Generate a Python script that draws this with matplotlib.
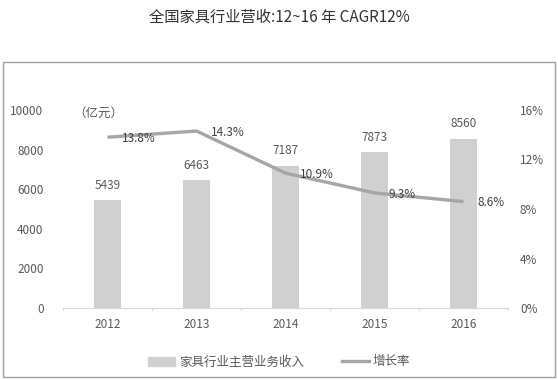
import matplotlib
matplotlib.use("Agg")
import matplotlib.pyplot as plt
from matplotlib.patches import Rectangle
from matplotlib.lines import Line2D

plt.rcParams['font.family'] = ['Noto Sans CJK SC', 'DejaVu Sans']

years = ["2012", "2013", "2014", "2015", "2016"]
revenue = [5439, 6463, 7187, 7873, 8560]
growth = [13.8, 14.3, 10.9, 9.3, 8.6]
growth_labels = ["13.8%", "14.3%", "10.9%", "9.3%", "8.6%"]
left_ticks = [0, 2000, 4000, 6000, 8000, 10000]
right_ticks = [0, 4, 8, 12, 16]

bar_color = "#d0d0d0"
line_color = "#a6a6a6"
text_color = "#595959"

fig = plt.figure(figsize=(5.58, 3.80), dpi=100)
fig.patches.append(Rectangle((3/558, 3/380), 552/558, 315/380, transform=fig.transFigure,
                             fill=False, edgecolor="#a0a0a0", linewidth=1))
fig.text(0.5, 1 - 17/380, "全国家具行业营收:12~16 年 CAGR12%", ha="center", va="center",
         fontsize=11, color="#333333")

ax = fig.add_axes([63/558, 1 - 308/380, (508 - 63)/558, (308 - 110)/380])
x = list(range(len(years)))
ax.bar(x, revenue, width=0.3, color=bar_color, zorder=1)
ax.set_xlim(-0.5, 4.5)
ax.set_ylim(0, 10000)
ax.set_yticks(left_ticks)
ax.set_yticklabels([str(t) for t in left_ticks])
ax.set_xticks(x)
ax.set_xticklabels(years)
for s in ["top", "right", "left"]:
    ax.spines[s].set_visible(False)
ax.spines["bottom"].set_color("#d9d9d9")
ax.tick_params(axis="y", length=0, labelsize=8.5, labelcolor=text_color, pad=14)
ax.tick_params(axis="x", length=0, labelsize=8.5, labelcolor=text_color, pad=7)
for b in [-0.5, 0.5, 1.5, 2.5, 3.5, 4.5]:
    ax.plot([b, b], [0, -120], color="#d9d9d9", linewidth=0.8, clip_on=False)
for xi, v in zip(x, revenue):
    ax.text(xi, v + 420, str(v), ha="center", va="bottom", fontsize=8.5, color=text_color)
ax.text(0.022, 0.985, "（亿元）", transform=ax.transAxes, ha="left", va="center",
        fontsize=9, color=text_color)

ax2 = ax.twinx()
ax2.plot(x, growth, color=line_color, linewidth=2.4, solid_capstyle="butt", zorder=3)
ax2.set_ylim(0, 16)
ax2.set_yticks(right_ticks)
ax2.set_yticklabels([f"{t}%" for t in right_ticks])
for s in ["top", "right", "left", "bottom"]:
    ax2.spines[s].set_visible(False)
ax2.tick_params(axis="y", length=0, labelsize=8.5, labelcolor=text_color, pad=8.6)
for xi, g, lab in zip(x, growth, growth_labels):
    ax2.text(xi + 0.16, g - 0.1, lab, ha="left", va="center", fontsize=8.5, color="#404040")

handles = [Rectangle((0, 0), 1, 1, color=bar_color),
           Line2D([0], [0], color=line_color, linewidth=2.4)]
fig.legend(handles, ["家具行业主营业务收入", "增长率"], loc="center",
           bbox_to_anchor=(0.5, 1 - 362/380), ncol=2, frameon=False,
           fontsize=9, labelcolor=text_color, handlelength=2.2, handletextpad=0.3,
           columnspacing=3.0)

fig.savefig("out.png", dpi=100)
